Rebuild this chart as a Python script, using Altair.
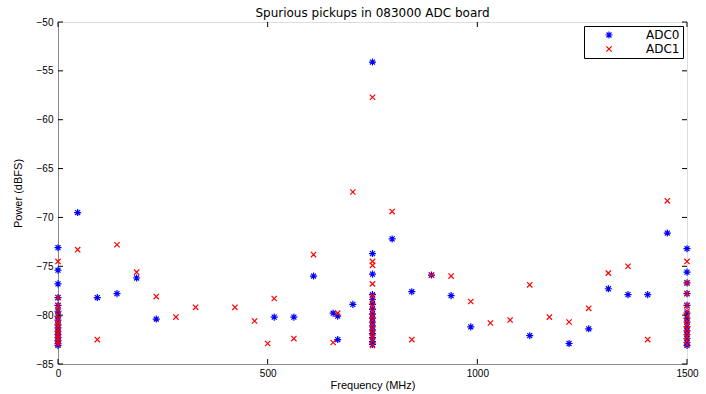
import altair as alt
import pandas as pd

# ---------------- data ----------------
adc0_freq = [0]*16 + [46.875, 93.75, 140.625, 187.5, 234.375, 515.625, 562.5, 609.375,
             656.25, 667, 667, 703.125] + [750]*16 + [796.875, 843.75, 890.625, 937.5,
             984.375, 1125, 1218.75, 1265.625, 1312.5, 1359.375, 1406.25, 1453.125] + [1500]*14
adc0_power = ([-73.1, -75.4, -76.8, -78.2, -79.0, -79.6, -80.1, -80.5, -81.0, -81.3, -81.7,
               -82.0, -82.3, -82.6, -82.9, -83.1]
              + [-69.5, -78.2, -77.8, -76.2, -80.4, -80.2, -80.2, -76.0, -79.8, -80.1, -82.5, -78.9]
              + [-54.1, -73.7, -75.8, -77.9, -78.4, -78.9, -79.4, -79.9, -80.3, -80.7, -81.1,
                 -81.5, -81.9, -82.3, -82.7, -83.0]
              + [-72.2, -77.6, -75.9, -78.0, -81.2, -82.1, -82.9, -81.4, -77.3, -77.9, -77.9, -71.6]
              + [-73.2, -75.6, -76.7, -77.8, -79.0, -79.8, -80.3, -80.7, -81.2, -81.6, -82.0,
                 -82.4, -82.8, -83.1])

adc1_freq = [0]*14 + [46.875, 93.75, 140.625, 187.5, 234.375, 281.25, 328.125, 421.875,
             468.75, 500, 515.625, 562.5, 609.375, 656.25, 667, 703.125] + [750]*16 + [
             796.875, 843.75, 890.625, 937.5, 984.375, 1031.25, 1078.125, 1125, 1171.875,
             1218.75, 1265.625, 1312.5, 1359.375, 1406.25, 1453.125] + [1500]*13
adc1_power = ([-74.5, -78.2, -79.0, -79.5, -80.0, -80.4, -80.8, -81.1, -81.5, -81.8, -82.1,
               -82.4, -82.7, -83.0]
              + [-73.3, -82.5, -72.8, -75.6, -78.1, -80.2, -79.2, -79.2, -80.6, -82.9, -78.3,
                 -82.4, -73.8, -82.8, -79.8, -67.4]
              + [-57.7, -74.5, -74.9, -76.8, -78.0, -78.6, -79.1, -79.6, -80.1, -80.5, -81.0,
                 -81.4, -81.8, -82.2, -82.6, -83.1]
              + [-69.4, -82.5, -75.9, -76.0, -78.6, -80.8, -80.5, -76.9, -80.2, -80.7, -79.3,
                 -75.7, -75.0, -82.5, -68.3]
              + [-74.5, -76.7, -77.8, -79.0, -79.6, -80.1, -80.6, -81.0, -81.4, -81.8, -82.2,
                 -82.6, -83.0])

series_names = ["ADC0", "ADC1"]
series_colors = ["#0000FF", "#FF0000"]
x_ticks = [0, 500, 1000, 1500]
y_ticks = [-85, -80, -75, -70, -65, -60, -55, -50]

df = pd.concat([
    pd.DataFrame({"freq": adc0_freq, "power": adc0_power, "series": "ADC0"}),
    pd.DataFrame({"freq": adc1_freq, "power": adc1_power, "series": "ADC1"}),
], ignore_index=True)
df["order"] = range(len(df))
xt_df = pd.DataFrame({"freq": x_ticks})
yt_df = pd.DataFrame({"power": y_ticks})

W, H = 629, 342
TICK = 5
FONT = "DejaVu Sans"
FS = 12
ASTERISK = "M-1,0L1,0M0,-1L0,1M-0.7,-0.7L0.7,0.7M-0.7,0.7L0.7,-0.7"
XMARK = "M-0.75,-0.75L0.75,0.75M-0.75,0.75L0.75,-0.75"

xs = alt.Scale(domain=[0, 1500], nice=False, zero=False)
ys = alt.Scale(domain=[-85, -50], nice=False, zero=False)

x_axis = alt.Axis(orient="bottom", values=x_ticks, format="d", ticks=False, grid=False,
                  labelPadding=4, labelFlush=False, title="Frequency (MHz)", titlePadding=1,
                  titleFontWeight="normal")
y_axis = alt.Axis(orient="left", values=y_ticks, format="d", ticks=False, grid=False,
                  labelPadding=5, labelFlush=False, title="Power (dBFS)", titlePadding=13,
                  titleFontWeight="normal")

points = alt.Chart(df).mark_point(filled=False, strokeWidth=1.2, size=50, opacity=1).encode(
    x=alt.X("freq:Q", scale=xs, axis=x_axis),
    y=alt.Y("power:Q", scale=ys, axis=y_axis),
    color=alt.Color("series:N", scale=alt.Scale(domain=series_names, range=series_colors),
                    legend=alt.Legend(title=None, orient="top-right", offset=4,
                                      strokeColor="black", fillColor="white",
                                      padding=3, symbolOffset=16, labelOffset=31,
                                      rowPadding=2, symbolSize=50, symbolStrokeWidth=1.2,
                                      labelFontSize=FS, labelFont=FONT,
                                      labelColor="black", labelLimit=200)),
    shape=alt.Shape("series:N", scale=alt.Scale(domain=series_names, range=[ASTERISK, XMARK]),
                    legend=alt.Legend(title=None)),
    order=alt.Order("order:Q"),
)

# inward ticks on all four sides (MATLAB-style box)
xt_top = alt.Chart(xt_df).mark_rule(color="black", strokeWidth=1).encode(
    x=alt.X("freq:Q", scale=xs, axis=x_axis), y=alt.value(0), y2=alt.value(TICK))
xt_bot = alt.Chart(xt_df).mark_rule(color="black", strokeWidth=1).encode(
    x=alt.X("freq:Q", scale=xs, axis=x_axis), y=alt.value(H - TICK), y2=alt.value(H))
yt_left = alt.Chart(yt_df).mark_rule(color="black", strokeWidth=1).encode(
    y=alt.Y("power:Q", scale=ys, axis=y_axis), x=alt.value(0), x2=alt.value(TICK))
yt_right = alt.Chart(yt_df).mark_rule(color="black", strokeWidth=1).encode(
    y=alt.Y("power:Q", scale=ys, axis=y_axis), x=alt.value(W - TICK), x2=alt.value(W))

chart = alt.layer(points, xt_top, xt_bot, yt_left, yt_right).properties(
    width=W, height=H,
    title=alt.TitleParams("Spurious pickups in 083000 ADC board", fontSize=FS,
                          fontWeight="normal", font=FONT, anchor="middle", offset=-3,
                          frame="group", color="black"),
    padding={"left": 58, "top": 22, "right": 19, "bottom": 30},
    autosize=alt.AutoSizeParams(type="none"),
).configure_view(
    stroke="black", strokeWidth=1
).configure_axis(
    labelFont=FONT, titleFont=FONT, labelFontSize=FS, titleFontSize=FS,
    titleFontWeight="normal", labelColor="black", titleColor="black",
    domainColor="black", domainWidth=1,
).configure(background="white")

chart.save("out.html", embed_options={"renderer": "svg", "actions": False})
